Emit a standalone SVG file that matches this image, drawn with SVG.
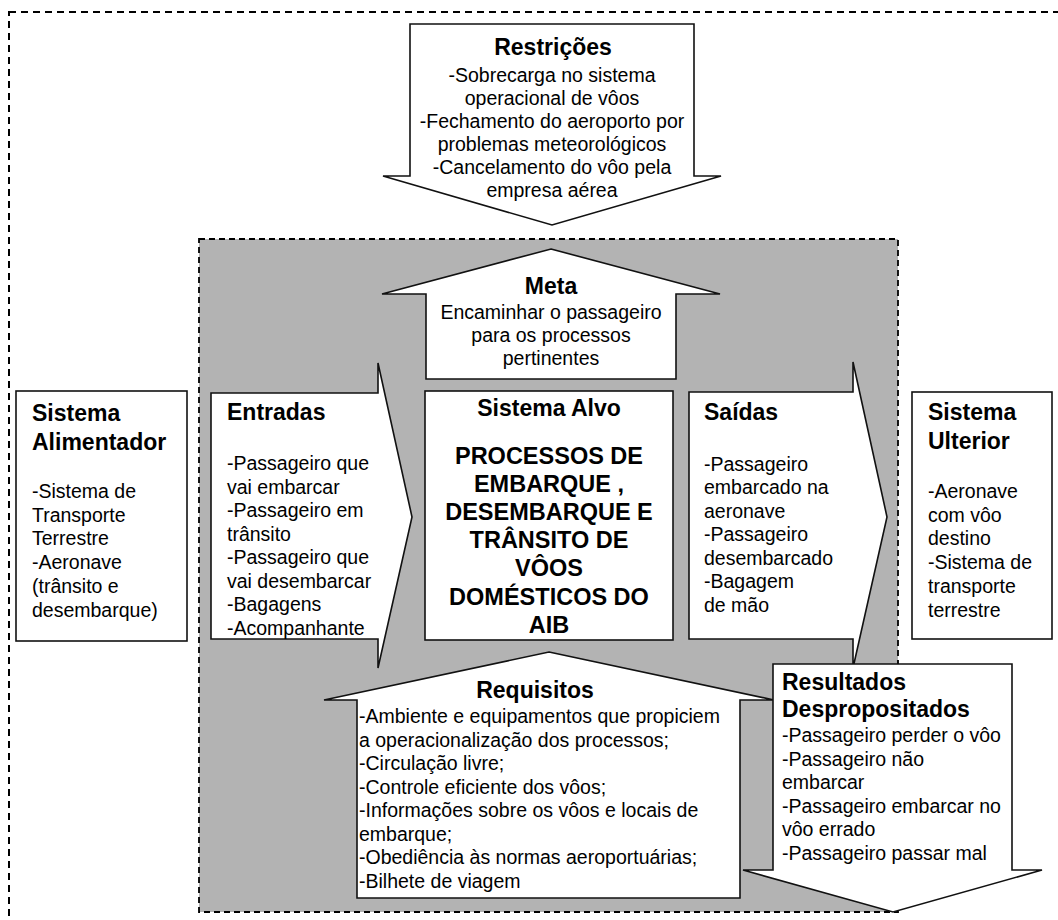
<svg xmlns="http://www.w3.org/2000/svg" width="1058" height="920" viewBox="0 0 1058 920">
<style>
text{font-family:"Liberation Sans",Arial,Helvetica,sans-serif;fill:#000}
.t{font-size:23px;font-weight:bold}
.b{font-size:19.5px}
.bb{font-size:23.5px;font-weight:bold}
.c{text-anchor:middle}
.shape{fill:#fff;stroke:#111;stroke-width:1.6}
</style>
<rect width="1058" height="920" fill="#fff"/>
<rect x="9" y="12" width="1070" height="930" fill="none" stroke="#000" stroke-width="2" stroke-dasharray="7,5"/>
<rect id="area" x="199" y="239" width="699" height="673" fill="#b3b3b3" stroke="#000" stroke-width="1.8" stroke-dasharray="6,4"/>

<g id="restricoes">
<polygon class="shape" points="410,24 694,24 694,176 721,176 552,225 383,176 410,176"/>
<text class="t c" x="553" y="55">Restrições</text>
<text class="b c" x="552" y="82">-Sobrecarga no sistema</text>
<text class="b c" x="552" y="105">operacional de vôos</text>
<text class="b c" x="552" y="128">-Fechamento do aeroporto por</text>
<text class="b c" x="552" y="151">problemas meteorológicos</text>
<text class="b c" x="552" y="174">-Cancelamento do vôo pela</text>
<text class="b c" x="552" y="197">empresa aérea</text>
</g>

<g id="meta">
<polygon class="shape" points="551,249 720,294 676,294 676,379 426,379 426,294 382,294"/>
<text class="t c" x="551" y="294">Meta</text>
<text class="b c" x="551" y="319">Encaminhar o passageiro</text>
<text class="b c" x="551" y="342">para os processos</text>
<text class="b c" x="551" y="365">pertinentes</text>
</g>

<g id="alimentador">
<rect class="shape" x="16" y="391" width="171" height="250"/>
<text class="t" x="32" y="421">Sistema</text>
<text class="t" x="32" y="450">Alimentador</text>
<text class="b" x="32" y="498">-Sistema de</text>
<text class="b" x="32" y="521.7">Transporte</text>
<text class="b" x="32" y="545.4">Terrestre</text>
<text class="b" x="32" y="569">-Aeronave</text>
<text class="b" x="32" y="592.8">(trânsito e</text>
<text class="b" x="32" y="616.5">desembarque)</text>
</g>

<g id="entradas">
<polygon class="shape" points="211,393 378,393 378,363 412,517 378,668 378,639 211,639"/>
<text class="t" x="227" y="420">Entradas</text>
<text class="b" x="227" y="470">-Passageiro que</text>
<text class="b" x="227" y="493.5">vai embarcar</text>
<text class="b" x="227" y="517">-Passageiro em</text>
<text class="b" x="227" y="540.5">trânsito</text>
<text class="b" x="227" y="564">-Passageiro que</text>
<text class="b" x="227" y="587.5">vai desembarcar</text>
<text class="b" x="227" y="611">-Bagagens</text>
<text class="b" x="227" y="634.5">-Acompanhante</text>
</g>

<g id="alvo">
<rect class="shape" x="425" y="391" width="248" height="249"/>
<text class="t c" x="549" y="416">Sistema Alvo</text>
<text class="bb c" x="549" y="464">PROCESSOS DE</text>
<text class="bb c" x="549" y="492">EMBARQUE ,</text>
<text class="bb c" x="549" y="520">DESEMBARQUE E</text>
<text class="bb c" x="549" y="548">TRÂNSITO DE</text>
<text class="bb c" x="549" y="576">VÔOS</text>
<text class="bb c" x="549" y="605">DOMÉSTICOS DO</text>
<text class="bb c" x="549" y="633">AIB</text>
</g>

<g id="saidas">
<polygon class="shape" points="689,392 853,392 853,362 887,517 853,668 853,639 689,639"/>
<text class="t" x="704" y="420">Saídas</text>
<text class="b" x="704" y="470.5">-Passageiro</text>
<text class="b" x="704" y="494">embarcado na</text>
<text class="b" x="704" y="517.5">aeronave</text>
<text class="b" x="704" y="541">-Passageiro</text>
<text class="b" x="704" y="564.5">desembarcado</text>
<text class="b" x="704" y="588">-Bagagem</text>
<text class="b" x="704" y="611.5">de mão</text>
</g>

<g id="ulterior">
<rect class="shape" x="912" y="392" width="140" height="247"/>
<text class="t" x="928" y="420">Sistema</text>
<text class="t" x="928" y="449">Ulterior</text>
<text class="b" x="928" y="498">-Aeronave</text>
<text class="b" x="928" y="521.7">com vôo</text>
<text class="b" x="928" y="545.4">destino</text>
<text class="b" x="928" y="569">-Sistema de</text>
<text class="b" x="928" y="592.8">transporte</text>
<text class="b" x="928" y="616.5">terrestre</text>
</g>

<g id="requisitos">
<polygon class="shape" points="549,652 774,700 740,700 740,898 357,898 357,700 324,700"/>
<text class="t c" x="535" y="698">Requisitos</text>
<text class="b" x="359" y="723">-Ambiente e equipamentos que propiciem</text>
<text class="b" x="359" y="746.5">a operacionalização dos processos;</text>
<text class="b" x="359" y="770">-Circulação livre;</text>
<text class="b" x="359" y="793.5">-Controle eficiente dos vôos;</text>
<text class="b" x="359" y="817">-Informações sobre os vôos e locais de</text>
<text class="b" x="359" y="840.5">embarque;</text>
<text class="b" x="359" y="864">-Obediência às normas aeroportuárias;</text>
<text class="b" x="359" y="887.5">-Bilhete de viagem</text>
</g>

<g id="resultados">
<polygon class="shape" points="773,664 1012,664 1012,870 1042,870 893,912 743,870 773,870"/>
<text class="t" x="782" y="690">Resultados</text>
<text class="t" x="782" y="717">Despropositados</text>
<text class="b" x="782" y="742">-Passageiro perder o vôo</text>
<text class="b" x="782" y="765.5">-Passageiro não</text>
<text class="b" x="782" y="789">embarcar</text>
<text class="b" x="782" y="812.5">-Passageiro embarcar no</text>
<text class="b" x="782" y="836">vôo errado</text>
<text class="b" x="782" y="859.5">-Passageiro passar mal</text>
</g>

<g id="connectors"></g>
</svg>
